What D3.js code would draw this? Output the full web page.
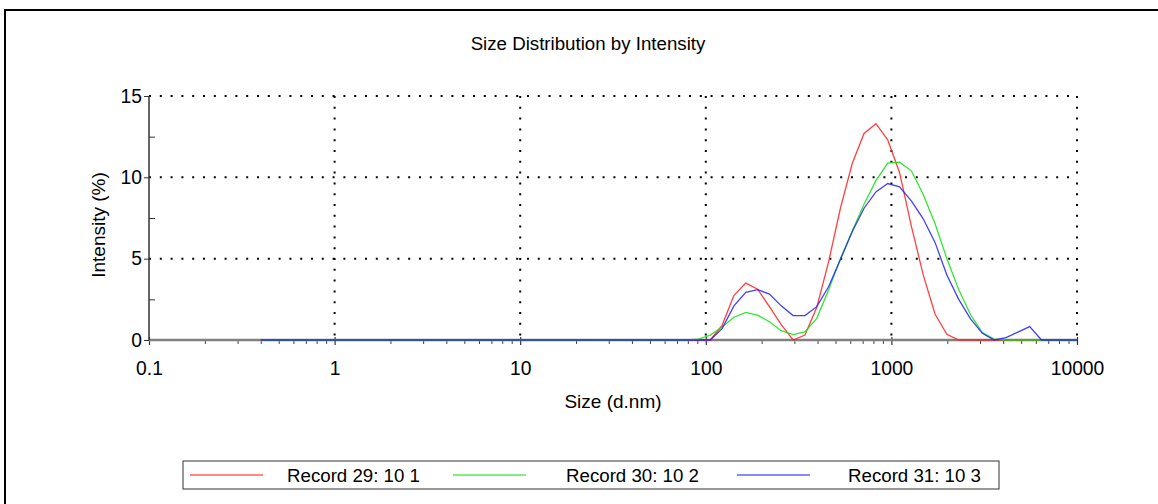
<!DOCTYPE html>
<html><head><meta charset="utf-8">
<script src="https://cdn.jsdelivr.net/npm/d3@7"></script>
<style>body{margin:0;background:#fff;} svg{display:block;font-family:Arial,"Liberation Sans",sans-serif;}</style>
</head><body>
<svg id="c" width="1158" height="504"></svg>
<script>
const sizes = [0.4,0.4632,0.5365,0.6213,0.7195,0.8332,0.9649,1.117,1.294,1.499,1.736,2.01,2.328,2.696,3.122,3.615,4.187,4.849,5.615,6.503,7.531,8.721,10.1,11.7,13.54,15.69,18.17,21.04,24.36,28.21,32.67,37.84,43.82,50.75,58.77,68.06,78.82,91.28,105.7,122.4,141.8,164.2,190.1,220.2,255,295.3,342,396.1,458.7,531.2,615.1,712.4,825,955.4,1106,1281,1484,1718,1990,2305,2669,3091,3580,4145,4801,5560,6439,7456,8635,10000];
const record29 = [0,0,0,0,0,0,0,0,0,0, 0,0,0,0,0,0,0,0,0,0, 0,0,0,0,0,0,0,0,0,0, 0,0,0,0,0,0,0,0,0,0.9, 2.75,3.5,3.12,2.05,0.95,0,0.3,2.0,4.8,8.1, 10.85,12.7,13.3,12.3,10.3,7.0,4.0,1.6,0.35,0, 0,0,0,0,0,0,0,0,0,0];
const record30 = [0,0,0,0,0,0,0,0,0,0, 0,0,0,0,0,0,0,0,0,0, 0,0,0,0,0,0,0,0,0,0, 0,0,0,0,0,0,0,0.06,0.3,0.8, 1.4,1.7,1.53,1.12,0.57,0.33,0.5,1.33,3.07,5.0, 6.7,8.35,9.8,10.87,10.93,10.4,8.95,7.16,5.0,3.1, 1.55,0.45,0.05,0,0,0,0,0,0,0];
const record31 = [0,0,0,0,0,0,0,0,0,0, 0,0,0,0,0,0,0,0,0,0, 0,0,0,0,0,0,0,0,0,0, 0,0,0,0,0,0,0,0,0,0.7, 2.1,2.93,3.1,2.82,2.1,1.5,1.5,2.05,3.27,4.95, 6.65,8.1,9.1,9.62,9.41,8.55,7.45,6.0,4.0,2.5, 1.3,0.41,0,0.15,0.48,0.82,0,0,0,0];
const seriesNames = ["Record 29: 10 1","Record 30: 10 2","Record 31: 10 3"];
const seriesColors = ["#ff2020","#10e010","#2020ff"];
const xTickValues = [0.1,1,10,100,1000,10000];
const xTickLabels = ["0.1","1","10","100","1000","10000"];
const yTickValues = [0,5,10,15];
const yMinorValues = [2.5,7.5,12.5];

const svg = d3.select("#c");
const L=149, R=1077, T=96, B=340;
const x = d3.scaleLog().domain([0.1,10000]).range([L,R]);
const y = d3.scaleLinear().domain([0,15]).range([B,T]);
const FONT = "Arial,'Liberation Sans',sans-serif";

// outer frame
svg.append("path").attr("d","M5,520 L5,10 L1170,10").attr("fill","none").attr("stroke","#000").attr("stroke-width",2);

// title
svg.append("text").attr("x",588).attr("y",49.5).attr("text-anchor","middle").attr("font-size",18.7).text("Size Distribution by Intensity");

// grid dotted
const dots = "2,8.8";
svg.append("g").selectAll("line").data(yTickValues.filter(v=>v>0)).join("line")
  .attr("x1",L).attr("x2",R).attr("y1",d=>y(d)).attr("y2",d=>y(d))
  .attr("stroke","#000").attr("stroke-width",2).attr("stroke-dasharray",dots);
svg.append("g").selectAll("line").data(xTickValues.filter(v=>v>0.1)).join("line")
  .attr("x1",d=>x(d)).attr("x2",d=>x(d)).attr("y1",T).attr("y2",B)
  .attr("stroke","#000").attr("stroke-width",2).attr("stroke-dasharray",dots);

// x axis
const minor = [];
for (let e=-1;e<4;e++) for (let m=2;m<10;m++) minor.push(m*Math.pow(10,e));
const gx = svg.append("g").attr("transform",`translate(0,${B})`);
gx.call(d3.axisBottom(x).tickValues(minor).tickSize(4).tickFormat(""));
gx.select(".domain").remove();
gx.selectAll(".tick line").attr("stroke","#444").attr("stroke-width",1);
const gx2 = svg.append("g").attr("transform",`translate(0,${B})`);
gx2.call(d3.axisBottom(x).tickValues(xTickValues).tickSize(5).tickPadding(16).tickFormat((d,i)=>xTickLabels[i]));
gx2.select(".domain").remove();
gx2.selectAll(".tick line").attr("stroke","#333").attr("stroke-width",1.2).attr("y1",-3);
gx2.selectAll(".tick text").attr("font-size",19.3).attr("fill","#000").attr("font-family",FONT);
svg.append("line").attr("x1",L).attr("x2",R).attr("y1",B).attr("y2",B).attr("stroke","#808080").attr("stroke-width",2.5);

// y axis
const gy = svg.append("g").attr("transform",`translate(${L},0)`);
gy.call(d3.axisLeft(y).tickValues(yTickValues).tickSize(5).tickPadding(2).tickFormat(d3.format("d")));
gy.select(".domain").remove();
gy.selectAll(".tick line").attr("stroke","#333");
gy.selectAll(".tick text").attr("font-size",19.3).attr("fill","#000").attr("font-family",FONT);
const gy2 = svg.append("g").attr("transform",`translate(${L},0)`);
gy2.call(d3.axisRight(y).tickValues(yMinorValues).tickSize(6).tickFormat(""));
gy2.select(".domain").remove();
gy2.selectAll(".tick line").attr("stroke","#333");
svg.append("line").attr("x1",L).attr("x2",L).attr("y1",T).attr("y2",B).attr("stroke","#333").attr("stroke-width",1.5);

// axis labels
svg.append("text").attr("x",613).attr("y",408).attr("text-anchor","middle").attr("font-size",19).text("Size (d.nm)");
svg.append("text").attr("transform","translate(105,225) rotate(-90)").attr("text-anchor","middle").attr("font-size",19).text("Intensity (%)");

// lines
const allSeries = [record29, record30, record31];
const line = d3.line().x((d,i)=>x(sizes[i])).y(d=>y(d));
svg.append("g").selectAll("path").data(allSeries).join("path")
  .attr("d",d=>line(d)).attr("fill","none")
  .attr("stroke",(d,i)=>seriesColors[i]).attr("stroke-width",1.3).attr("stroke-opacity",0.85);

// legend
const lg = svg.append("g");
lg.append("rect").attr("x",183).attr("y",461).attr("width",816).attr("height",28).attr("fill","#fff").attr("stroke","#333").attr("stroke-width",1);
const legX = [190, 453, 737];
const legTX = [287, 566, 848];
seriesNames.forEach((n,i)=>{
  lg.append("line").attr("x1",legX[i]).attr("x2",legX[i]+73).attr("y1",475).attr("y2",475)
    .attr("stroke",seriesColors[i]).attr("stroke-width",1.5).attr("stroke-opacity",0.7);
  lg.append("text").attr("x",legTX[i]).attr("y",482).attr("font-size",18.7).text(n);
});
</script>
</body></html>
